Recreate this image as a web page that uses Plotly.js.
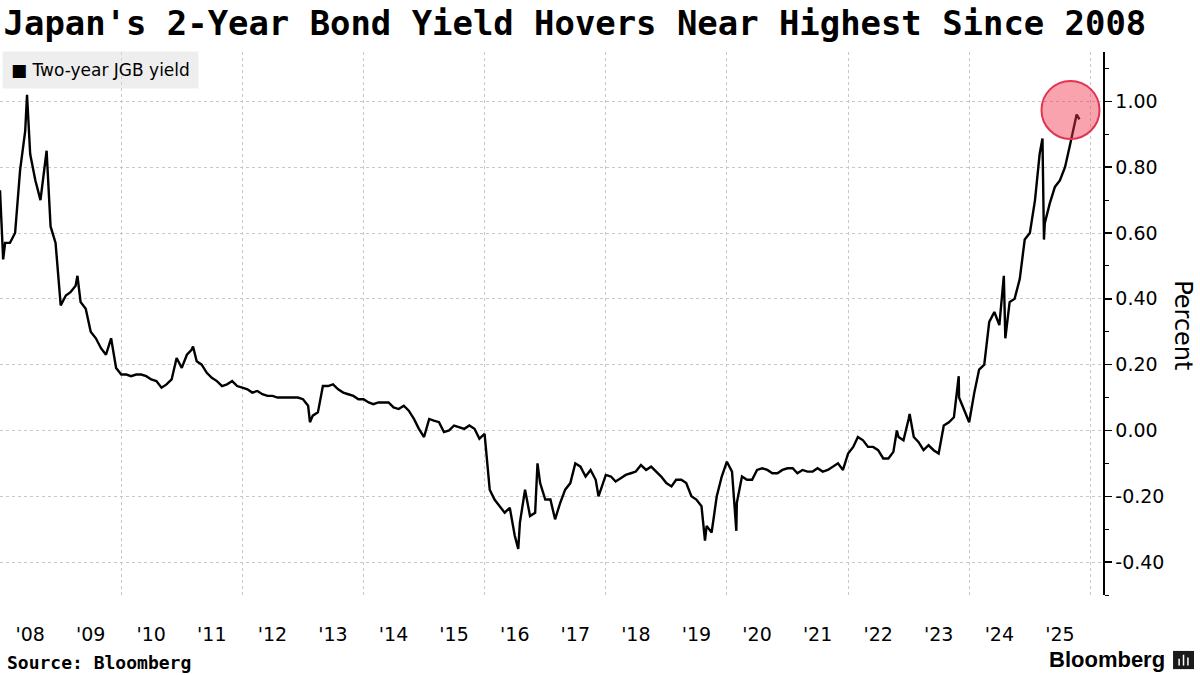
<!DOCTYPE html>
<html>
<head>
<meta charset="utf-8">
<script src="https://cdn.plot.ly/plotly-3.0.1.min.js"></script>
<style>
html,body{margin:0;padding:0;background:#fff;}
#chart{width:1200px;height:675px;}
</style>
</head>
<body>
<div id="chart"></div>
<script>
// ---- Data ----
const seriesName = 'Two-year JGB yield';
const firstYear = 2008; // monthly readings start January 2008 (first of each month)
const monthlyYield = [
  // 2008
  0.73, 0.57, 0.57, 0.60, 0.79, 0.91, 0.84, 0.76, 0.70, 0.81, 0.62, 0.57,
  // 2009
  0.38, 0.41, 0.42, 0.44, 0.39, 0.37, 0.30, 0.28, 0.25, 0.23, 0.28, 0.19,
  // 2010
  0.17, 0.17, 0.165, 0.17, 0.17, 0.165, 0.155, 0.15, 0.13, 0.14, 0.155, 0.22,
  // 2011
  0.19, 0.23, 0.245, 0.21, 0.20, 0.175, 0.16, 0.15, 0.135, 0.14, 0.15, 0.135,
  // 2012
  0.13, 0.125, 0.115, 0.12, 0.11, 0.105, 0.105, 0.10, 0.10, 0.10, 0.10, 0.10,
  // 2013
  0.095, 0.075, 0.045, 0.055, 0.135, 0.135, 0.14, 0.125, 0.115, 0.11, 0.105, 0.095,
  // 2014
  0.095, 0.085, 0.08, 0.085, 0.085, 0.085, 0.07, 0.065, 0.075, 0.06, 0.035, 0.005,
  // 2015
  -0.02, 0.035, 0.03, 0.025, -0.005, 0.00, 0.015, 0.01, 0.005, 0.015, 0.005, -0.025,
  // 2016
  -0.01, -0.18, -0.21, -0.23, -0.25, -0.235, -0.32, -0.28, -0.18, -0.26, -0.25, -0.16,
  // 2017
  -0.21, -0.21, -0.27, -0.22, -0.18, -0.16, -0.10, -0.11, -0.14, -0.12, -0.15, -0.18,
  // 2018
  -0.135, -0.14, -0.155, -0.145, -0.135, -0.13, -0.125, -0.105, -0.12, -0.11, -0.125, -0.14,
  // 2019
  -0.16, -0.17, -0.15, -0.15, -0.16, -0.20, -0.21, -0.23, -0.29, -0.31, -0.20, -0.14,
  // 2020
  -0.095, -0.125, -0.22, -0.14, -0.15, -0.15, -0.12, -0.115, -0.12, -0.13, -0.13, -0.12,
  // 2021
  -0.115, -0.115, -0.13, -0.12, -0.125, -0.125, -0.115, -0.125, -0.12, -0.11, -0.10, -0.12,
  // 2022
  -0.07, -0.05, -0.02, -0.03, -0.05, -0.05, -0.06, -0.085, -0.085, -0.065, -0.02, -0.03,
  // 2023
  0.035, -0.02, -0.035, -0.06, -0.045, -0.06, -0.07, 0.015, 0.025, 0.04, 0.10, 0.06,
  // 2024
  0.025, 0.115, 0.185, 0.20, 0.33, 0.36, 0.32, 0.40, 0.39, 0.40, 0.46, 0.58,
  // 2025 (Jan - Oct)
  0.60, 0.70, 0.84, 0.63, 0.69, 0.74, 0.76, 0.80, 0.87, 0.94
];
// Intra-month extremes visible in the picture
const spikeDates = [
  '2008-01-20', '2008-06-12', '2008-10-08', '2009-04-12', '2011-03-10',
  '2013-02-12', '2016-07-22', '2016-11-15', '2017-11-18', '2019-08-22',
  '2020-02-27', '2022-10-22', '2023-01-07', '2023-10-30', '2024-07-28',
  '2024-08-06', '2025-03-18', '2025-03-27', '2025-10-10', '2025-10-27'
];
const spikeYield = [
  0.52, 1.02, 0.85, 0.47, 0.255,
  0.025, -0.36, -0.10, -0.20, -0.335,
  -0.305, 0.00, 0.05, 0.165, 0.47,
  0.28, 0.887, 0.58, 0.96, 0.945
];
const yTickVals = [-0.4, -0.2, 0, 0.2, 0.4, 0.6, 0.8, 1.0];
const yTickText = ['-0.40', '-0.20', '0.00', '0.20', '0.40', '0.60', '0.80', '1.00'];
const highlightDate = '2025-09-03';
const highlightYield = 0.974;

// ---- Build the series ----
const pts = [];
monthlyYield.forEach(function (v, i) {
  const y = firstYear + Math.floor(i / 12);
  const m = (i % 12) + 1;
  pts.push({d: y + '-' + String(m).padStart(2, '0') + '-01', v: v});
});
spikeDates.forEach(function (d, i) { pts.push({d: d, v: spikeYield[i]}); });
pts.sort(function (a, b) { return a.d < b.d ? -1 : a.d > b.d ? 1 : 0; });
const xDates = pts.map(function (p) { return p.d; });
const yVals = pts.map(function (p) { return p.v; });

const xRange = ['2008-01-01', '2026-03-18'];
const baseFont = 'DejaVu Sans, Verdana, sans-serif';
const monoBold = 'DejaVu Sans Mono, monospace';

const traces = [
  {
    type: 'scatter', mode: 'lines', name: seriesName,
    x: xDates, y: yVals,
    line: {color: '#000000', width: 2.4},
    hoverinfo: 'x+y'
  },
  {
    type: 'scatter', mode: 'lines', x: [], y: [], xaxis: 'x2', yaxis: 'y',
    showlegend: false, hoverinfo: 'skip'
  }
];

const layout = {
  width: 1200, height: 675,
  margin: {l: 0, r: 97, t: 52, b: 80, pad: 0},
  paper_bgcolor: '#ffffff', plot_bgcolor: '#ffffff',
  showlegend: false,
  font: {family: baseFont, color: '#000000'},
  title: {
    text: "Japan's 2-Year Bond Yield Hovers Near Highest Since 2008",
    x: 0.003, xanchor: 'left', xref: 'container',
    y: 0.965, yanchor: 'middle', yref: 'container',
    font: {family: monoBold, size: 33.9, color: '#000000', weight: 'bold'}
  },
  xaxis: {
    type: 'date', range: xRange,
    tickmode: 'linear', tick0: '2008-01-01', dtick: 'M24',
    showticklabels: false, ticks: '',
    showgrid: true, gridcolor: '#c8c8c8', griddash: 'dot', gridwidth: 1,
    zeroline: false, showline: false, fixedrange: true
  },
  xaxis2: {
    type: 'date', range: xRange, overlaying: 'x', anchor: 'y', side: 'bottom',
    tickmode: 'linear', tick0: '2008-07-01', dtick: 'M12', tickformat: "'%y",
    ticks: '', showgrid: false, zeroline: false, showline: false,
    ticklabelstandoff: 26,
    tickfont: {family: baseFont, size: 19, color: '#000000'},
    fixedrange: true
  },
  yaxis: {
    side: 'right', range: [-0.5, 1.15],
    tickmode: 'array', tickvals: yTickVals, ticktext: yTickText,
    ticks: 'outside', ticklen: 7, tickwidth: 1.5, tickcolor: '#000000',
    showline: true, linecolor: '#000000', linewidth: 1.5,
    showgrid: true, gridcolor: '#c8c8c8', griddash: 'dot', gridwidth: 1,
    zeroline: false,
    minor: {tickmode: 'linear', dtick: 0.1, tick0: 0, ticks: 'outside', ticklen: 4, tickwidth: 1, tickcolor: '#000000', showgrid: false},
    tickfont: {family: baseFont, size: 19, color: '#000000'},
    fixedrange: true
  },
  shapes: [
    {
      type: 'circle', xref: 'x', yref: 'y', layer: 'above',
      xsizemode: 'pixel', ysizemode: 'pixel',
      xanchor: highlightDate, yanchor: highlightYield,
      x0: -29, x1: 29, y0: -29, y1: 29,
      fillcolor: 'rgba(240,50,75,0.45)',
      line: {color: '#e23452', width: 2}
    },
    // Bloomberg mark icon
    {
      type: 'rect', xref: 'paper', yref: 'paper',
      x0: 1.0635, x1: 1.0825, y0: -0.1365, y1: -0.1030,
      fillcolor: '#1a1a1a', line: {width: 0}
    },
    {
      type: 'line', xref: 'paper', yref: 'paper',
      x0: 1.0690, x1: 1.0690, y0: -0.1300, y1: -0.1175,
      line: {color: '#ffffff', width: 1.5}
    },
    {
      type: 'line', xref: 'paper', yref: 'paper',
      x0: 1.0730, x1: 1.0730, y0: -0.1300, y1: -0.1100,
      line: {color: '#ffffff', width: 1.5}
    },
    {
      type: 'line', xref: 'paper', yref: 'paper',
      x0: 1.0770, x1: 1.0770, y0: -0.1300, y1: -0.1150,
      line: {color: '#ffffff', width: 1.5}
    }
  ],
  annotations: [
    {
      xref: 'paper', yref: 'paper', x: 0.0018, y: 0.967,
      xanchor: 'left', yanchor: 'middle', showarrow: false,
      text: '■ ' + seriesName,
      font: {family: baseFont, size: 17, color: '#000000'},
      bgcolor: 'rgba(215,215,215,0.42)', borderpad: 8
    },
    {
      xref: 'paper', yref: 'paper', x: 1.0725, y: 0.497,
      xanchor: 'center', yanchor: 'middle', showarrow: false,
      text: 'Percent', textangle: 90,
      font: {family: baseFont, size: 24, color: '#000000'}
    },
    {
      xref: 'paper', yref: 'paper', x: 0.0045, y: -0.1234,
      xanchor: 'left', yanchor: 'middle', showarrow: false,
      text: '<b>Source: Bloomberg</b>',
      font: {family: monoBold, size: 18, color: '#000000'}
    },
    {
      xref: 'paper', yref: 'paper', x: 1.058, y: -0.1197,
      xanchor: 'right', yanchor: 'middle', showarrow: false,
      text: '<b>Bloomberg</b>',
      font: {family: 'Liberation Sans, Arial, sans-serif', size: 22, color: '#000000'}
    }
  ]
};

Plotly.newPlot('chart', traces, layout, {displayModeBar: false, staticPlot: true});
</script>
</body>
</html>
